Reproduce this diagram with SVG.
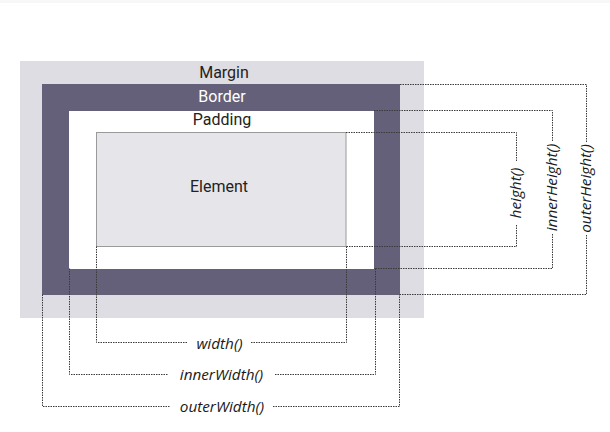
<svg xmlns="http://www.w3.org/2000/svg" width="610" height="432" viewBox="0 0 610 432">
<style>
.box{font-family:Roboto,"Liberation Sans",sans-serif;font-size:16px;text-anchor:middle;fill:#222}
.lbl{font-family:"Open Sans","DejaVu Sans",sans-serif;font-style:italic;font-size:15.3px;text-anchor:middle;fill:#1a1a1a}
.dot{fill:none;stroke:#3a3a3a;stroke-width:1;stroke-dasharray:1.5,1}
</style>
<rect x="0" y="0" width="610" height="432" fill="#ffffff"/>
<rect x="0" y="0" width="610" height="3" fill="#f7f7f7"/>
<g id="margin">
<rect x="20" y="61" width="404" height="257" fill="#dddde3"/>
<text class="box" x="224" y="78">Margin</text>
</g>
<g id="border">
<rect x="42" y="84" width="358" height="211" fill="#646079"/>
<text class="box" x="222" y="102" style="fill:#ffffff">Border</text>
</g>
<g id="padding">
<rect x="69" y="111" width="305" height="158" fill="#ffffff"/>
<text class="box" x="222" y="125">Padding</text>
</g>
<g id="element">
<rect x="96.5" y="132.5" width="249.5" height="114" fill="#e6e6ea" stroke="#9a9a9a" stroke-width="1"/>
<text class="box" x="219" y="192">Element</text>
</g>
<g id="connectors">
<path class="dot" d="M346 132.5H516.5V161M516.5 225V246.5H346"/>
<path class="dot" d="M374 110.5H552.5V141M552.5 234V268.5H374"/>
<path class="dot" d="M400 84.5H586.5V142M586.5 235V294.5H400"/>
<path class="dot" d="M96.5 246.5V342.5H188M251 342.5H346.5V246.5"/>
<path class="dot" d="M69.5 268.5V374.5H168M275 374.5H375.5V268.5"/>
<path class="dot" d="M42.5 294.5V406.5H170M273 406.5H399.5V294.5"/>
</g>
<g id="labels">
<text class="lbl" x="219.5" y="348.5">width()</text>
<text class="lbl" x="221.5" y="380">innerWidth()</text>
<text class="lbl" x="222" y="412">outerWidth()</text>
<text class="lbl" transform="translate(521,193) rotate(-90)">height()</text>
<text class="lbl" transform="translate(557,187.5) rotate(-90)">innerHeight()</text>
<text class="lbl" transform="translate(591,188.5) rotate(-90)">outerHeight()</text>
</g>
</svg>
